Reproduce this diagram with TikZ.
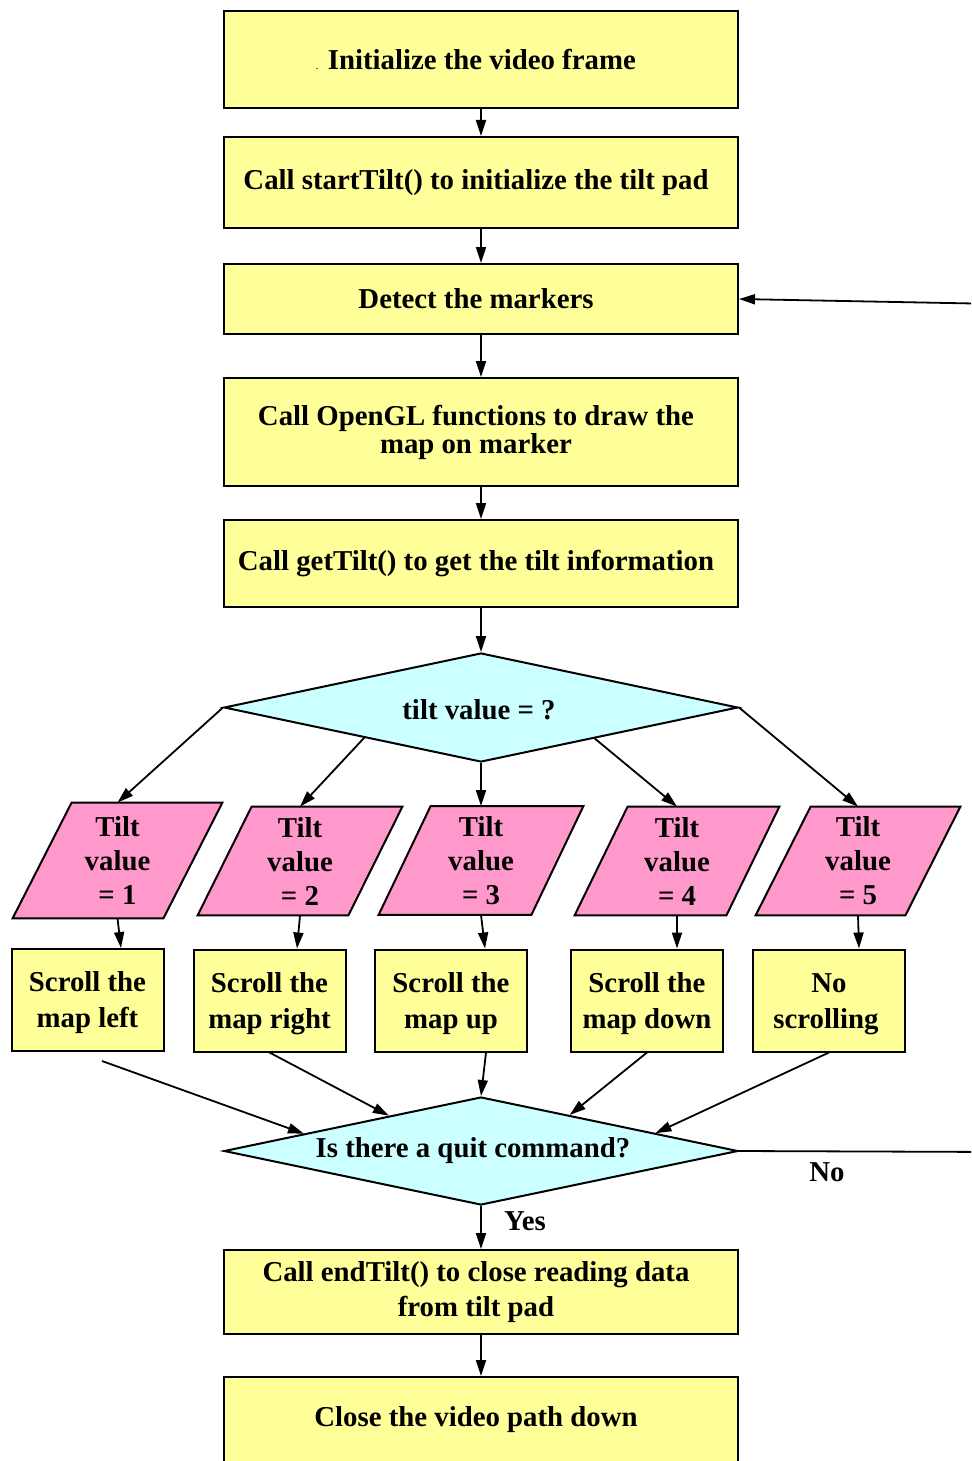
\documentclass[tikz,border=0pt]{standalone}
\usepackage{fontspec}
\setmainfont{Liberation Serif}
\usetikzlibrary{arrows.meta,shapes.geometric,calc,backgrounds}
\definecolor{boxyellow}{HTML}{FFFF99}
\definecolor{casepink}{HTML}{FF99CC}
\definecolor{decicyan}{HTML}{CCFFFF}
% trailing pad that nudges a centred line slightly to the left
\newcommand\padr{\hspace*{5pt}}
\begin{document}
\begin{tikzpicture}[x=0.5pt,y=-0.5pt,
  every node/.style={font=\fontsize{14.4}{15}\selectfont\bfseries, align=center, inner sep=0pt},
  procbox/.style={draw=black, line width=1pt, fill=boxyellow, rectangle, minimum width=257pt},
  smallbox/.style={draw=black, line width=1pt, fill=boxyellow, rectangle, minimum width=76pt, minimum height=51pt,
    font=\fontsize{14.4}{18}\selectfont\bfseries},
  decision/.style={draw=black, line width=1pt, fill=decicyan, diamond, aspect=4.7, minimum width=257pt, minimum height=54.5pt},
  casebox/.style={rectangle, minimum width=102pt, minimum height=54pt, font=\fontsize{14.4}{17}\selectfont\bfseries},
  flow/.style={line width=0.9pt, -{Triangle[length=8pt,width=5pt]}},
  plainline/.style={line width=0.9pt},
]
\useasboundingbox (0,0) rectangle (971,1461);
\clip (0,0) rectangle (971,1461);

% main column
\node[procbox, minimum height=48.5pt] (init) at (481,59.5)
  {{\fontsize{4}{4}\selectfont .} Initialize the video frame\padr};
\node[procbox, minimum height=45.5pt] (start) at (481,182.5)
  {Call startTilt() to initialize the tilt pad\padr};
\node[procbox, minimum height=35pt] (detect) at (481,299) {Detect the markers\padr};
\node[procbox, minimum height=54pt, font=\fontsize{14.4}{14}\selectfont\bfseries] (opengl) at (481,432)
  {Call OpenGL functions to draw the\padr\\map on marker\padr};
\node[procbox, minimum height=43.5pt] (gettilt) at (481,563.5)
  {Call getTilt() to get the tilt information\padr};
\node[decision] (tilt) at (481,707.5) {\rule{0pt}{12pt}tilt value = ?\hspace*{2pt}};

% tilt cases
\node[casebox, minimum width=104.5pt, minimum height=57.5pt] (p1) at (117.5,860.5) {Tilt\\value\\= 1};
\node[casebox] (p2) at (300,861) {Tilt\\value\\= 2};
\node[casebox] (p3) at (481,860.5) {Tilt\\value\\= 3};
\node[casebox] (p4) at (677,861) {Tilt\\value\\= 4};
\node[casebox] (p5) at (858,861) {Tilt\\value\\= 5};

\begin{scope}[on background layer]
  \foreach \p/\s in {p1/59, p2/54, p3/52, p4/53, p5/55} {
    \draw[line width=1pt, fill=casepink]
      ($(\p.north west)+(\s,0)$) -- (\p.north east) --
      ($(\p.south east)-(\s,0)$) -- (\p.south west) -- cycle;
  }
\end{scope}

% scroll actions
\node[smallbox] (s1) at (87.5,1000) {\rule{0pt}{13pt}Scroll the\\map left};
\node[smallbox] (s2) at (269.5,1000.5) {\rule{0pt}{13pt}Scroll the\\map right};
\node[smallbox] (s3) at (451,1000.5) {\rule{0pt}{13pt}Scroll the\\map up};
\node[smallbox] (s4) at (647,1000.5) {\rule{0pt}{13pt}Scroll the\\map down};
\node[smallbox] (s5) at (829,1000.5) {\rule{0pt}{13pt}No\\scrolling\hspace*{3pt}};

\node[decision, minimum height=54pt] (quit) at (481,1151) {Is there a quit command?\hspace*{8pt}};
\node[procbox, minimum height=42pt, font=\fontsize{14.4}{17.5}\selectfont\bfseries] (endtilt) at (481,1292)
  {Call endTilt() to close reading data\padr\\from tilt pad\padr};
\node[procbox, minimum height=43pt] (close) at (481,1420) {Close the video path down\padr};

\node (nolabel) at (827,1172) {No};
\node (yeslabel) at (525,1221) {Yes};

\coordinate (loopin) at (1000,304);
\coordinate (loopout) at (1000,1152);

% connectors
\draw[flow] (init.south) -- (start.north);
\draw[flow] (start.south) -- (detect.north);
\draw[flow] (detect.south) -- (opengl.north);
\draw[flow] (opengl.south) -- (gettilt.north);
\draw[flow] (gettilt.south) -- (tilt.north);
\draw[flow] (loopin) -- (detect.east);

\draw[flow] (tilt.west) -- (p1.north);
\draw[flow] ($(tilt.west)!0.547!(tilt.south)$) -- (p2.north);
\draw[flow] (tilt.south) -- (p3.north);
\draw[flow] ($(tilt.south)!0.441!(tilt.east)$) -- (p4.north);
\draw[flow] (tilt.east) -- (p5.north);

\draw[flow] (p1.south) -- ($(s1.north)+(33.5,0)$);
\draw[flow] (p2.south) -- ($(s2.north)+(27.5,0)$);
\draw[flow] (p3.south) -- ($(s3.north)+(34,0)$);
\draw[flow] (p4.south) -- ($(s4.north)+(30,0)$);
\draw[flow] (p5.south) -- ($(s5.north)+(30,0)$);

\draw[flow] ($(s1.south)+(14.5,9)$) -- ($(quit.west)!0.314!(quit.north)$);
\draw[flow] (s2.south) -- ($(quit.west)!0.643!(quit.north)$);
\draw[flow] ($(s3.south)+(35,0)$) -- (quit.north);
\draw[flow] (s4.south) -- ($(quit.north)!0.344!(quit.east)$);
\draw[flow] (s5.south) -- ($(quit.north)!0.676!(quit.east)$);

\draw[plainline] (quit.east) -- (loopout);
\draw[flow] (quit.south) -- (endtilt.north);
\draw[flow] (endtilt.south) -- (close.north);
\end{tikzpicture}
\end{document}
